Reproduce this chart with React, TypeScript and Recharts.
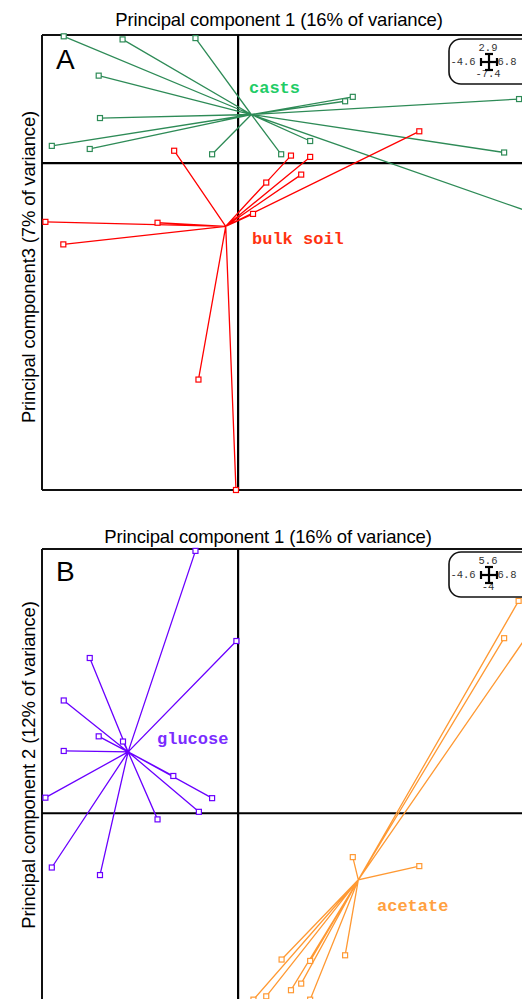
import React from 'react'
import { ScatterChart, Scatter, XAxis, YAxis, ReferenceLine } from 'recharts'

// axis ranges shown in the corner key of each panel
const pc1Range = [-4.6, 6.8]
const pc3Range = [-7.4, 2.9]
const pc2Range = [-4, 5.6]

// panel A: PC1 vs PC3
const castsHub = [0.31, 1.1]
const castsX = [-4.09, -2.71, -1.0, -3.27, -3.24, -4.37, -3.48, -0.61, 1.01, 2.69, 2.51, 6.59, 1.69, 6.24, 6.76]
const castsY = [2.87, 2.8, 2.83, 1.98, 1.02, 0.39, 0.32, 0.2, 0.2, 1.5, 1.4, 1.45, 0.5, 0.24, -1.08]

const bulkHub = [-0.29, -1.43]
const bulkX = [-1.5, 1.24, 1.69, 1.48, 0.66, 0.35, -4.52, -1.89, -4.1, 4.25, -0.93, -0.05]
const bulkY = [0.28, 0.17, 0.14, -0.26, -0.44, -1.15, -1.33, -1.35, -1.84, 0.72, -4.9, -7.4]

// panel B: PC1 vs PC2
const glucoseHub = [-2.58, 1.3]
const glucoseX = [-1.0, -0.04, -3.48, -4.09, -3.27, -2.7, -4.09, -4.52, -1.52, -0.61, -0.92, -1.89, -4.37, -3.24]
const glucoseY = [5.56, 3.65, 3.29, 2.39, 1.63, 1.52, 1.32, 0.33, 0.79, 0.32, 0.03, -0.13, -1.15, -1.31]

const acetateHub = [2.82, -1.41]
const acetateX = [2.69, 4.25, 2.51, 1.02, 1.69, 1.48, 1.24, 0.66, 0.36, 1.69, 6.58, 6.24, 6.78]
const acetateY = [-0.93, -1.12, -3.01, -3.1, -3.13, -3.61, -3.75, -3.88, -3.95, -3.95, 4.5, 3.71, 3.76]

// hub -> point -> hub -> point ... so the joint line draws a star
function spider(hub: number[], xs: number[], ys: number[]) {
  const out: { x: number; y: number; hub: boolean }[] = []
  xs.forEach((x, i) => {
    out.push({ x: hub[0], y: hub[1], hub: true })
    out.push({ x, y: ys[i], hub: false })
  })
  return out
}

const marker = (color: string) => (props: any) => {
  if (props.payload?.hub) return <g />
  return <rect x={props.cx - 2.5} y={props.cy - 2.5} width={5} height={5} fill="#fff" stroke={color} strokeWidth={1.2} />
}

const sans = '"Liberation Sans", Arial, sans-serif'
const mono = '"Liberation Mono", "Courier New", monospace'

function Key({ top, up, down }: { top: number; up: string; down: string }) {
  const t = { fontFamily: mono, fontSize: 10.5, fill: '#333' }
  return (
    <svg width={80} height={50} style={{ position: 'absolute', left: 448, top }}>
      <rect x={1} y={1} width={90} height={45} rx={12} fill="#fff" stroke="#111" strokeWidth={1.6} />
      <text x={40} y={13} textAnchor="middle" {...t}>{up}</text>
      <text x={15} y={27} textAnchor="middle" {...t}>-4.6</text>
      <text x={59} y={27} textAnchor="middle" {...t}>6.8</text>
      <text x={40} y={39} textAnchor="middle" {...t}>{down}</text>
      <g stroke="#000" strokeWidth={2.2}>
        <line x1={33} y1={24} x2={49} y2={24} />
        <line x1={41} y1={16} x2={41} y2={32} />
        <line x1={33} y1={20} x2={33} y2={28} />
        <line x1={49} y1={20} x2={49} y2={28} />
        <line x1={37} y1={16} x2={45} y2={16} />
        <line x1={37} y1={32} x2={45} y2={32} />
      </g>
    </svg>
  )
}

const frame = { stroke: '#111', strokeWidth: 2 }

function Panel({ yRange, bottom, children }: { yRange: number[]; bottom: number; children: React.ReactNode }) {
  return (
    <ScatterChart width={540} height={500} margin={{ top: 35, right: 12, bottom, left: 42 }}>
      <XAxis type="number" dataKey="x" domain={pc1Range} hide />
      <YAxis type="number" dataKey="y" domain={yRange} hide />
      <ReferenceLine x={pc1Range[0]} {...frame} />
      <ReferenceLine y={yRange[1]} {...frame} />
      <ReferenceLine y={yRange[0]} {...frame} />
      <ReferenceLine x={0} stroke="#000" strokeWidth={2.2} />
      <ReferenceLine y={0} stroke="#000" strokeWidth={2.2} />
      {children}
    </ScatterChart>
  )
}

const title: React.CSSProperties = {
  position: 'absolute', transform: 'translate(-50%, -50%)', whiteSpace: 'nowrap',
  fontFamily: sans, fontSize: 18.5, lineHeight: '19px', color: '#000', letterSpacing: -0.15,
}
const yTitle: React.CSSProperties = {
  ...title, transform: 'translate(-50%, -50%) rotate(-90deg)',
}
const tag = (color: string, left: number, top: number): React.CSSProperties => ({
  position: 'absolute', left, top, fontFamily: mono, fontWeight: 'bold', fontSize: 17, lineHeight: '17px', color,
})
const letter = (top: number): React.CSSProperties => ({
  position: 'absolute', left: 56, top, fontFamily: sans, fontSize: 28, lineHeight: '28px',
})

export default function App() {
  return (
    <div style={{ position: 'fixed', left: 0, top: 0, width: 522, height: 999, overflow: 'hidden', background: '#fff' }}>
      <div style={{ position: 'absolute', left: 0, top: 0 }}>
        <Panel yRange={pc3Range} bottom={10}>
          <Scatter data={spider(castsHub, castsX, castsY)} line={{ stroke: '#2e8b57', strokeWidth: 1.3 }} lineType="joint" shape={marker('#2e8b57')} isAnimationActive={false} />
          <Scatter data={spider(bulkHub, bulkX, bulkY)} line={{ stroke: '#ff0000', strokeWidth: 1.3 }} lineType="joint" shape={marker('#ff0000')} isAnimationActive={false} />
        </Panel>
      </div>
      <div style={{ position: 'absolute', left: 0, top: 514 }}>
        <Panel yRange={pc2Range} bottom={12}>
          <Scatter data={spider(glucoseHub, glucoseX, glucoseY)} line={{ stroke: '#6a00ff', strokeWidth: 1.3 }} lineType="joint" shape={marker('#6a00ff')} isAnimationActive={false} />
          <Scatter data={spider(acetateHub, acetateX, acetateY)} line={{ stroke: '#ff9933', strokeWidth: 1.3 }} lineType="joint" shape={marker('#ff9933')} isAnimationActive={false} />
        </Panel>
      </div>

      <div style={{ ...title, left: 279, top: 19 }}>Principal component 1 (16% of variance)</div>
      <div style={{ ...yTitle, left: 28, top: 267 }}>Principal component3 (7% of variance)</div>
      <div style={{ ...title, left: 268, top: 536 }}>Principal component 1 (16% of variance)</div>
      <div style={{ ...yTitle, left: 28, top: 765 }}>Principal component 2 (12% of variance)</div>

      <div style={letter(46)}>A</div>
      <div style={letter(558)}>B</div>

      <div style={tag('#22cc66', 249, 80)}>casts</div>
      <div style={tag('#ff3311', 252, 231)}>bulk soil</div>
      <div style={tag('#7a2cff', 157, 731)}>glucose</div>
      <div style={tag('#ffa040', 377, 898)}>acetate</div>

      <Key top={38} up="2.9" down="-7.4" />
      <Key top={551} up="5.6" down="-4" />
    </div>
  )
}
